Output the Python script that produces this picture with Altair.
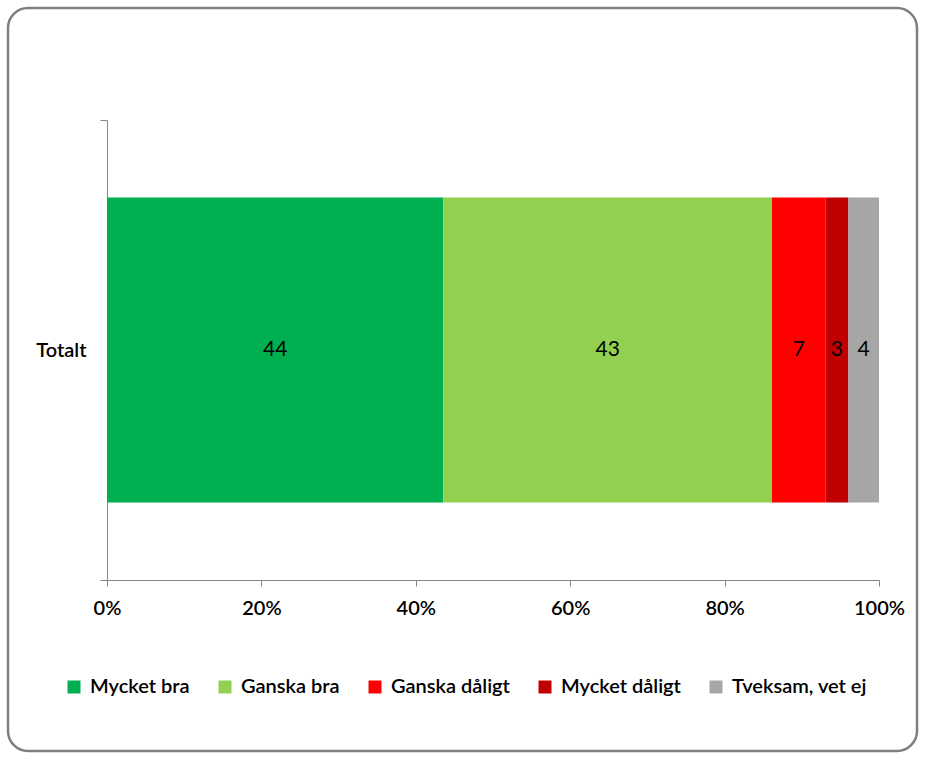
import altair as alt
import pandas as pd

categories = ["Mycket bra", "Ganska bra", "Ganska dåligt", "Mycket dåligt", "Tveksam, vet ej"]
values = [44, 43, 7, 3, 4]
colors = ["#00B050", "#92D050", "#FF0000", "#C00000", "#A6A6A6"]
group = "Totalt"
tick_values = [0, 0.2, 0.4, 0.6, 0.8, 1.0]

FONT = "Lato"
AXIS_GRAY = "#868686"
WEIGHT = 600

df = pd.DataFrame({
    "grupp": [group] * len(values),
    "svar": categories,
    "andel": values,
    "ordning": list(range(len(values))),
})

base = (
    alt.Chart(df)
    .transform_joinaggregate(total="sum(andel)")
    .transform_window(cum="sum(andel)", sort=[alt.SortField("ordning")], frame=[None, 0])
    .transform_calculate(
        start="(datum.cum - datum.andel) / datum.total",
        end="datum.cum / datum.total",
        mid="(datum.cum - datum.andel / 2) / datum.total",
    )
)

y_enc = alt.Y(
    "grupp:N",
    title=None,
    scale=alt.Scale(paddingInner=0, paddingOuter=0),
    axis=alt.Axis(
        domainColor=AXIS_GRAY, tickColor=AXIS_GRAY, tickSize=7, tickBand="extent",
        labelPadding=14, labelFont=FONT, labelFontSize=20, labelFontWeight=WEIGHT,
        labelColor="black", labelAngle=0,
    ),
)

bars = base.mark_bar(height=alt.RelativeBandSize(band=0.663)).encode(
    y=y_enc,
    x=alt.X(
        "start:Q",
        title=None,
        scale=alt.Scale(domain=[0, 1], nice=False),
        axis=alt.Axis(
            format="%", values=tick_values, grid=False, labelFlush=False,
            domainColor=AXIS_GRAY, tickColor=AXIS_GRAY, tickSize=6,
            labelPadding=12, labelFont=FONT, labelFontSize=20, labelFontWeight=WEIGHT,
            labelColor="black",
        ),
    ),
    x2="end:Q",
    color=alt.Color(
        "svar:N",
        scale=alt.Scale(domain=categories, range=colors),
        legend=alt.Legend(
            title=None, orient="none", legendX=-43, legendY=557, direction="horizontal",
            columns=5, symbolType="square", symbolSize=169, symbolStrokeWidth=0,
            labelFont=FONT, labelFontSize=20, labelFontWeight=WEIGHT, labelColor="black",
            columnPadding=25, labelOffset=6,
        ),
    ),
)

labels = base.mark_text(font=FONT, fontSize=21, color="black").encode(
    y=alt.Y("grupp:N"),
    x=alt.X("mid:Q"),
    text=alt.Text("andel:Q"),
)

frame = alt.Chart(pd.DataFrame({"f": [0]})).mark_rect(
    fill=None, filled=False, stroke="#7F7F7F", strokeWidth=2.5, cornerRadius=20
).encode(
    x=alt.value(-99), x2=alt.value(810), y=alt.value(-112), y2=alt.value(631)
)

chart = (
    alt.layer(frame, bars, labels)
    .properties(
        width=772, height=460,
        padding={"left": 107, "top": 120, "right": 47, "bottom": 181},
        autosize=alt.AutoSizeParams(type="none"),
        background="white",
    )
    .configure_view(stroke=None)
)

chart.save("out.html", embed_options={"renderer": "svg", "actions": False})
